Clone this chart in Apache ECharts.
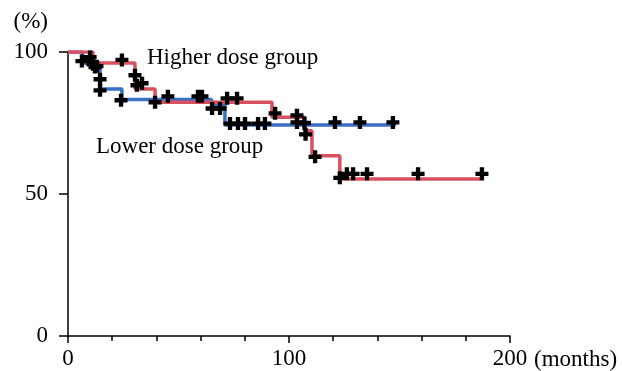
<!DOCTYPE html>
<html>
<head>
<meta charset="utf-8">
<script src="https://cdn.jsdelivr.net/npm/echarts@6/dist/echarts.min.js"></script>
<style>
  html, body { margin: 0; padding: 0; background: #fff; }
  #chart { width: 622px; height: 371px; }
</style>
</head>
<body>
<div id="chart"></div>
<script>
  // survival step curves (months, %)
  const highTime = [0, 11.3, 30.3, 39.4, 92.3, 107, 110.4, 123, 188];
  const highSurv = [100, 96.1, 87, 82.3, 77, 72.3, 63.5, 55.3, 55.3];
  const lowTime = [0, 6.5, 14.5, 24.4, 65, 71, 148.4];
  const lowSurv = [100, 96, 87, 83.3, 81.5, 74.3, 74.3];

  // censored cases
  const highCensorTime = [10, 11.3, 12.2, 13.1, 24.4, 30.3, 31.2, 33.5, 39.4, 45.2, 58.8, 60.6, 72, 76.5, 93.7, 103.6, 107, 107.5, 111.8, 123, 126.2, 129, 135.3, 158.4, 187.3];
  const highCensorSurv = [98.2, 95.7, 94.7, 95, 97.2, 91.8, 88.3, 89, 82.3, 84.4, 84.4, 84.4, 83.7, 83.7, 78.4, 77.7, 75, 71, 63.1, 55.7, 57.1, 57.1, 57.1, 57.1, 57.1];
  const lowCensorTime = [6.3, 14.5, 14.5, 24, 65.2, 68.8, 73.3, 76.9, 80.1, 86, 89.1, 103.6, 120.8, 132.1, 147];
  const lowCensorSurv = [96.8, 90.4, 86.5, 83, 80.1, 80.1, 74.8, 74.8, 74.8, 74.8, 74.8, 75.2, 75.2, 75.2, 75.2];

  const xTicks = [0, 100, 200];
  const yTicks = [0, 50, 100];

  const FONT = 'Liberation Serif';
  const FS = 23;
  const PLUS = 'path://M4,0H8V4H12V8H8V12H4V8H0V4H4Z';

  const zip = (a, b) => a.map((v, i) => [v, b[i]]);

  const chart = echarts.init(document.getElementById('chart'));
  chart.setOption({
    animation: false,
    grid: { left: 68, right: 112, top: 52, bottom: 35 },
    xAxis: {
      type: 'value',
      min: 0,
      max: 200,
      interval: 100,
      name: '(months)',
      nameLocation: 'end',
      nameGap: 24,
      nameTextStyle: { fontFamily: FONT, fontSize: FS, color: '#000', verticalAlign: 'top', padding: [12, 0, 0, 0] },
      axisLine: { lineStyle: { color: '#000', width: 1.5 } },
      axisTick: { show: true, length: 7, lineStyle: { color: '#000', width: 1.5 } },
      minorTick: { show: true, splitNumber: 5, length: 5, lineStyle: { color: '#000', width: 1.5 } },
      splitLine: { show: false },
      axisLabel: {
        margin: 11,
        fontFamily: FONT,
        fontSize: FS,
        color: '#000',
        formatter: (v) => (xTicks.includes(v) ? String(v) : ''),
      },
    },
    yAxis: {
      type: 'value',
      min: 0,
      max: 100,
      interval: 50,
      name: '(%)',
      nameLocation: 'end',
      nameGap: 19,
      nameTextStyle: { fontFamily: FONT, fontSize: FS, color: '#000', align: 'right', padding: [0, 20, 0, 0] },
      axisLine: { show: true, lineStyle: { color: '#000', width: 1.5 } },
      axisTick: { show: true, length: 9, lineStyle: { color: '#000', width: 1.5 } },
      splitLine: { show: false },
      axisLabel: {
        margin: 20,
        fontFamily: FONT,
        fontSize: FS,
        color: '#000',
        formatter: (v) => (yTicks.includes(v) ? String(v) : ''),
      },
    },
    graphic: [
      {
        type: 'text',
        left: 147,
        top: 46,
        style: { text: 'Higher dose group', fontFamily: FONT, fontSize: FS, fill: '#000' },
      },
      {
        type: 'text',
        left: 96,
        top: 135,
        style: { text: 'Lower dose group', fontFamily: FONT, fontSize: FS, fill: '#000' },
      },
    ],
    series: [
      {
        name: 'Lower dose group',
        type: 'line',
        step: 'end',
        data: zip(lowTime, lowSurv),
        showSymbol: false,
        lineStyle: { color: '#3a6fc4', width: 3.5 },
        z: 2,
      },
      {
        name: 'Higher dose group',
        type: 'line',
        step: 'end',
        data: zip(highTime, highSurv),
        showSymbol: false,
        lineStyle: { color: '#d9505e', width: 3.5 },
        z: 3,
      },
      {
        name: 'censor high',
        type: 'scatter',
        symbol: PLUS,
        symbolSize: 13,
        itemStyle: { color: '#000', opacity: 1 },
        data: zip(highCensorTime, highCensorSurv),
        z: 5,
      },
      {
        name: 'censor low',
        type: 'scatter',
        symbol: PLUS,
        symbolSize: 13,
        itemStyle: { color: '#000', opacity: 1 },
        data: zip(lowCensorTime, lowCensorSurv),
        z: 5,
      },
    ],
  });
</script>
</body>
</html>
